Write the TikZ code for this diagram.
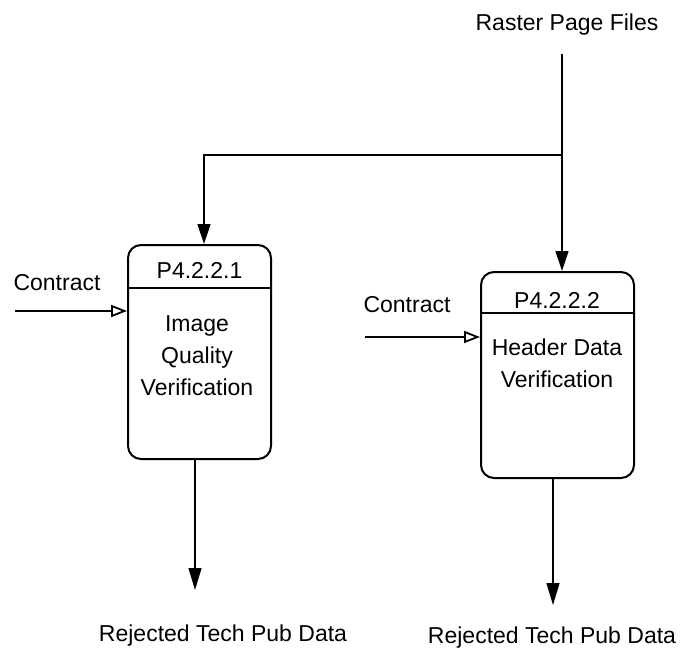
\documentclass[tikz,border=0pt]{standalone}
\usepackage{fontspec}
\setmainfont{Liberation Sans}
\usetikzlibrary{arrows.meta}
\begin{document}
\begin{tikzpicture}[x=1pt,y=-1pt,
  lbl/.style={font=\fontsize{23}{32}\selectfont, inner sep=0pt, align=center},
  proc/.style={draw, line width=2pt, rounded corners=13pt, inner sep=0pt},
  divider/.style={line width=1.8pt},
  flow/.style={line width=1.4pt},
  solidtip/.style={-{Triangle[length=20pt,width=13pt]}},
  opentip/.style={-{Triangle[open,length=16pt,width=12pt,line width=1.8pt]}},
  outtip/.style={-{Triangle[length=22pt,width=13pt]}},
]
\useasboundingbox (0,0) rectangle (682,669);
% process boxes
\node[proc, minimum width=143pt, minimum height=214pt] (b1) at (199.5,352) {};
\node[proc, minimum width=153pt, minimum height=206pt] (b2) at (557.5,375) {};
\draw[divider] (b1.west |- 0,288) -- (b1.east |- 0,288);
\draw[divider] (b2.west |- 0,313) -- (b2.east |- 0,313);
\node[lbl] (id1) at (199.5,270) {P4.2.2.1};
\node[lbl] (id2) at (557,300) {P4.2.2.2};
\node[lbl] (n1) at (197,356) {Image\\Quality\\Verification};
\node[lbl] (n2) at (557,363) {Header Data\\Verification};
% raster page files
\node[lbl] (src) at (567,25) {Raster Page Files};
\coordinate (j) at (562,155);
\coordinate (c1) at (204,155);
\draw[flow, solidtip, shorten <=18pt] (src.south -| j) -- (j) -- (b2.north -| j);
\draw[flow, solidtip] (j) -- (c1) -- (b1.north -| c1);
% contracts
\node[lbl] (k1) at (57,283) {Contract};
\node[lbl] (k2) at (407,305) {Contract};
\coordinate (k1s) at (15,311);
\coordinate (k2s) at (365,337);
\draw[flow, opentip] (k1s) -- (b1.west |- k1s);
\draw[flow, opentip] (k2s) -- (b2.west |- k2s);
% rejected
\coordinate (e1) at (195,590);
\coordinate (e2) at (553,605);
\draw[flow, outtip] (b1.south -| e1) -- (e1);
\draw[flow, outtip] (b2.south -| e2) -- (e2);
\node[lbl] (r1) at (223,636) {Rejected Tech Pub Data};
\node[lbl] (r2) at (552,638) {Rejected Tech Pub Data};
\end{tikzpicture}
\end{document}
